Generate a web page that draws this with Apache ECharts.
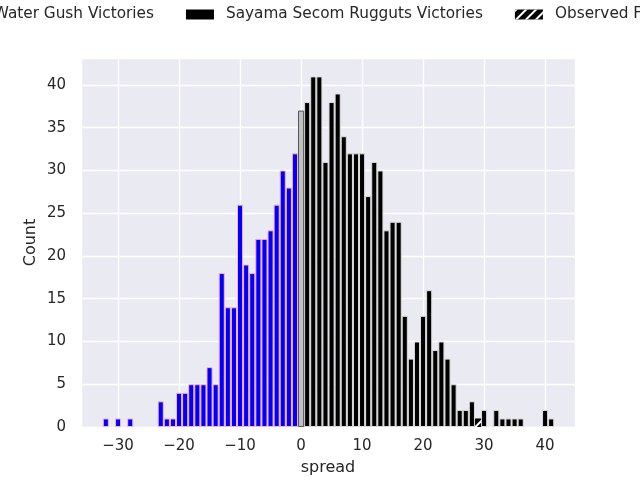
<!DOCTYPE html>
<html>
<head>
<meta charset="utf-8">
<script src="https://cdn.jsdelivr.net/npm/echarts@6/dist/echarts.min.js"></script>
<style>
  html, body { margin: 0; padding: 0; background: #fff; }
  #chart { width: 640px; height: 480px; }
</style>
</head>
<body>
<div id="chart"></div>
<script>
// spread histogram: blue = Kurita wins, black = Secom wins, grey = draw
const kuritaSpread = [-32, -30, -28, -23, -22, -21, -20, -19, -18, -17, -16, -15, -14, -13, -12, -11, -10, -9, -8, -7, -6, -5, -4, -3, -2, -1];
const kuritaCount  = [1, 1, 1, 3, 1, 1, 4, 4, 5, 5, 5, 7, 5, 18, 14, 14, 26, 19, 18, 22, 22, 23, 26, 30, 28, 32];

const drawSpread = [0];
const drawCount  = [37];

const secomSpread = [1, 2, 3, 4, 5, 6, 7, 8, 9, 10, 11, 12, 13, 14, 15, 16, 17, 18, 19, 20, 21, 22, 23, 24, 25, 26, 27, 28, 30, 32, 33, 34, 35, 36, 40, 41];
const secomCount  = [38, 41, 41, 31, 38, 39, 34, 32, 32, 32, 27, 31, 30, 23, 24, 24, 13, 8, 10, 13, 16, 9, 10, 8, 5, 2, 2, 3, 2, 2, 1, 1, 1, 1, 2, 1];

const observedSpread = [29];
const observedCount  = [1];

const yTicks = [0, 5, 10, 15, 20, 25, 30, 35, 40];

function pairs(xs, ys) {
  return xs.map((x, i) => [x, ys[i]]);
}

const chart = echarts.init(document.getElementById('chart'));
const font = 'DejaVu Sans';
const barW = 6.1;

const option = {
  animation: false,
  textStyle: { fontFamily: font },
  legend: {
    top: 2,
    left: -101,
    width: 1200,
    itemWidth: 28,
    itemHeight: 10,
    itemGap: 32,
    itemStyle: { borderWidth: 0 },
    textStyle: { fontSize: 15.3, color: '#262626', fontFamily: font, padding: [0, 0, 0, 7] },
    data: [
      { name: 'Kurita Water Gush Victories', icon: 'rect' },
      { name: 'Sayama Secom Rugguts Victories', icon: 'rect' },
      { name: 'Observed Final Spread', icon: 'rect' }
    ]
  },
  grid: {
    left: 81, right: 65, top: 58, bottom: 53,
    outerBoundsMode: 'none',
    show: true, backgroundColor: '#eaeaf2', borderWidth: 0
  },
  xAxis: {
    type: 'value',
    min: -36.07,
    max: 44.9,
    splitNumber: 8,
    name: 'spread',
    nameLocation: 'middle',
    nameGap: 33,
    nameMoveOverlap: false,
    nameTextStyle: { fontSize: 16, color: '#262626', fontFamily: font },
    axisLine: { show: false },
    axisTick: { show: false },
    axisLabel: {
      fontSize: 15, color: '#262626', fontFamily: font, margin: 12,
      showMinLabel: false, showMaxLabel: false,
      formatter: v => (v < 0 ? '\u2212' + Math.abs(v) : String(v))
    },
    splitLine: { show: true, lineStyle: { color: '#ffffff', width: 1.3 } }
  },
  yAxis: {
    type: 'value',
    min: 0,
    max: 43.15,
    interval: 5,
    name: 'Count',
    nameLocation: 'middle',
    nameGap: 42,
    nameMoveOverlap: false,
    nameTextStyle: { fontSize: 16, color: '#262626', fontFamily: font },
    axisLine: { show: false },
    axisTick: { show: false },
    axisLabel: {
      fontSize: 15, color: '#262626', fontFamily: font, margin: 15,
      showMaxLabel: false,
      formatter: v => (yTicks.indexOf(v) >= 0 ? String(v) : '')
    },
    splitLine: { show: true, lineStyle: { color: '#ffffff', width: 1.3 } }
  },
  series: [
    {
      name: 'Kurita Water Gush Victories',
      type: 'bar',
      barWidth: barW,
      barGap: '-100%',
      itemStyle: { color: '#0000ff', borderColor: '#ffb3c1', borderWidth: 1 },
      data: pairs(kuritaSpread, kuritaCount)
    },
    {
      name: 'Sayama Secom Rugguts Victories',
      type: 'bar',
      barWidth: barW,
      barGap: '-100%',
      itemStyle: { color: '#000000', borderColor: '#dddddd', borderWidth: 1 },
      data: pairs(secomSpread, secomCount)
    },
    {
      name: 'Draw',
      type: 'bar',
      barWidth: barW,
      barGap: '-100%',
      itemStyle: { color: '#c0c0c0', borderColor: '#555555', borderWidth: 1 },
      data: pairs(drawSpread, drawCount)
    },
    {
      name: 'Observed Final Spread',
      type: 'bar',
      barWidth: barW,
      barGap: '-100%',
      itemStyle: {
        color: '#000000', borderColor: '#000000', borderWidth: 0,
        decal: { symbol: 'rect', color: '#ffffff', dashArrayX: [1, 0], dashArrayY: [2, 5], rotation: -Math.PI / 4, symbolSize: 1 }
      },
      data: pairs(observedSpread, observedCount)
    }
  ]
};

chart.setOption(option);
</script>
</body>
</html>
